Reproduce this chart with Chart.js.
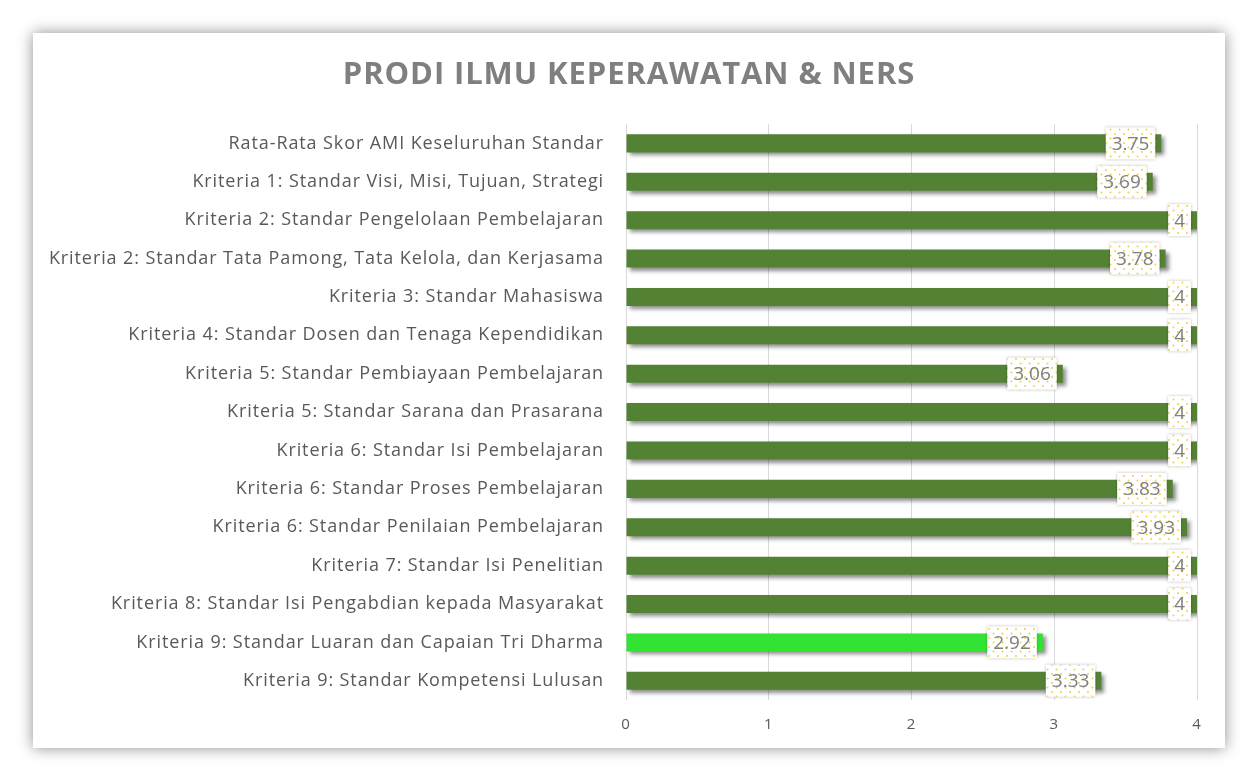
<!DOCTYPE html>
<html>
<head>
<meta charset="utf-8">
<script src="https://cdn.jsdelivr.net/npm/chart.js@4"></script>
<style>
  html, body { margin: 0; padding: 0; background: #fff; }
  .card {
    position: absolute; left: 33px; top: 33px; width: 1192px; height: 715px;
    background: #fff; box-shadow: 0 0 14px rgba(0,0,0,0.45);
  }
  canvas { display: block; }
</style>
</head>
<body>
<div class="card"><canvas id="myBarChart" width="1192" height="715"></canvas></div>
<script>
// data
var categories = [
  'Rata-Rata Skor AMI Keseluruhan Standar',
  'Kriteria 1: Standar Visi, Misi, Tujuan, Strategi',
  'Kriteria 2: Standar Pengelolaan Pembelajaran',
  'Kriteria 2: Standar Tata Pamong, Tata Kelola, dan Kerjasama',
  'Kriteria 3: Standar Mahasiswa',
  'Kriteria 4: Standar Dosen dan Tenaga Kependidikan',
  'Kriteria 5: Standar Pembiayaan Pembelajaran',
  'Kriteria 5: Standar Sarana dan Prasarana',
  'Kriteria 6: Standar Isi Pembelajaran',
  'Kriteria 6: Standar Proses Pembelajaran',
  'Kriteria 6: Standar Penilaian Pembelajaran',
  'Kriteria 7: Standar Isi Penelitian',
  'Kriteria 8: Standar Isi Pengabdian kepada Masyarakat',
  'Kriteria 9: Standar Luaran dan Capaian Tri Dharma',
  'Kriteria 9: Standar Kompetensi Lulusan'
];
var scores = [3.75, 3.69, 4, 3.78, 4, 4, 3.06, 4, 4, 3.83, 3.93, 4, 4, 2.92, 3.33];
var highlighted = [13];
var xTicks = [0, 1, 2, 3, 4];

var barColors = scores.map(function (v, i) {
  return highlighted.indexOf(i) >= 0 ? '#33e333' : '#548235';
});

// dotted pattern for the label boxes
var pc = document.createElement('canvas');
pc.width = 9; pc.height = 9;
var pctx = pc.getContext('2d');
pctx.fillStyle = '#fff';
pctx.fillRect(0, 0, 9, 9);
pctx.fillStyle = '#f0cf4a';
pctx.beginPath(); pctx.arc(2, 2, 1, 0, Math.PI * 2); pctx.fill();
pctx.beginPath(); pctx.arc(6.5, 6.5, 1, 0, Math.PI * 2); pctx.fill();

// wider text, closer to the original font
var spacing = {
  id: 'spacing',
  beforeDraw: function (chart) {
    chart.ctx.letterSpacing = '0.9px';
  }
};

var barShadow = {
  id: 'barShadow',
  beforeDatasetsDraw: function (chart) {
    var c = chart.ctx;
    c.save();
    c.shadowColor = 'rgba(0,0,0,0.45)';
    c.shadowBlur = 4;
    c.shadowOffsetX = 3;
    c.shadowOffsetY = 3;
  },
  afterDatasetsDraw: function (chart) {
    chart.ctx.restore();
  }
};

var valueLabels = {
  id: 'valueLabels',
  afterDatasetsDraw: function (chart) {
    var c = chart.ctx;
    var pattern = c.createPattern(pc, 'repeat');
    var meta = chart.getDatasetMeta(0);
    c.save();
    c.letterSpacing = '0px';
    c.font = '19px "Open Sans"';
    c.textAlign = 'center';
    c.textBaseline = 'middle';
    meta.data.forEach(function (bar, i) {
      var txt = String(scores[i]);
      var w = c.measureText(txt).width + 12;
      var h = 32;
      var right = bar.x - 6;
      var left = right - w;
      var top = bar.y - h / 2;
      c.save();
      c.shadowColor = 'rgba(0,0,0,0.25)';
      c.shadowBlur = 3;
      c.fillStyle = pattern;
      c.fillRect(left, top, w, h);
      c.restore();
      c.fillStyle = '#7f7f7f';
      c.fillText(txt, left + w / 2, bar.y + 1);
    });
    c.restore();
  }
};

var ctx = document.getElementById('myBarChart').getContext('2d');
var myBarChart = new Chart(ctx, {
  type: 'bar',
  data: {
    labels: categories,
    datasets: [{
      data: scores,
      backgroundColor: barColors,
      borderWidth: 0,
      barPercentage: 0.47,
      categoryPercentage: 1
    }]
  },
  plugins: [spacing, barShadow, valueLabels],
  options: {
    indexAxis: 'y',
    responsive: false,
    animation: false,
    layout: { padding: 0 },
    plugins: {
      legend: { display: false },
      tooltip: { enabled: false },
      title: {
        display: true,
        text: 'PRODI ILMU KEPERAWATAN & NERS',
        color: '#7f7f7f',
        font: { family: '"Open Sans"', size: 31, weight: 'bold' },
        padding: { top: 24, bottom: 30 }
      }
    },
    scales: {
      x: {
        min: 0,
        max: 4,
        afterBuildTicks: function (scale) {
          scale.ticks = xTicks.map(function (v) { return { value: v }; });
        },
        afterFit: function (scale) { scale.height = 48; },
        grid: { color: '#d9d9d9', drawTicks: false },
        border: { display: false },
        ticks: { color: '#595959', padding: 16, font: { family: '"Open Sans"', size: 15 } }
      },
      y: {
        afterFit: function (scale) { scale.width = 593; },
        grid: { display: false },
        border: { display: false },
        ticks: { color: '#595959', padding: 14, font: { family: '"Open Sans"', size: 18 } }
      },
      // empty right-hand margin
      yRight: {
        type: 'category',
        position: 'right',
        afterFit: function (scale) { scale.width = 28; },
        grid: { display: false },
        border: { display: false },
        ticks: { display: false }
      }
    }
  }
});
</script>
</body>
</html>
